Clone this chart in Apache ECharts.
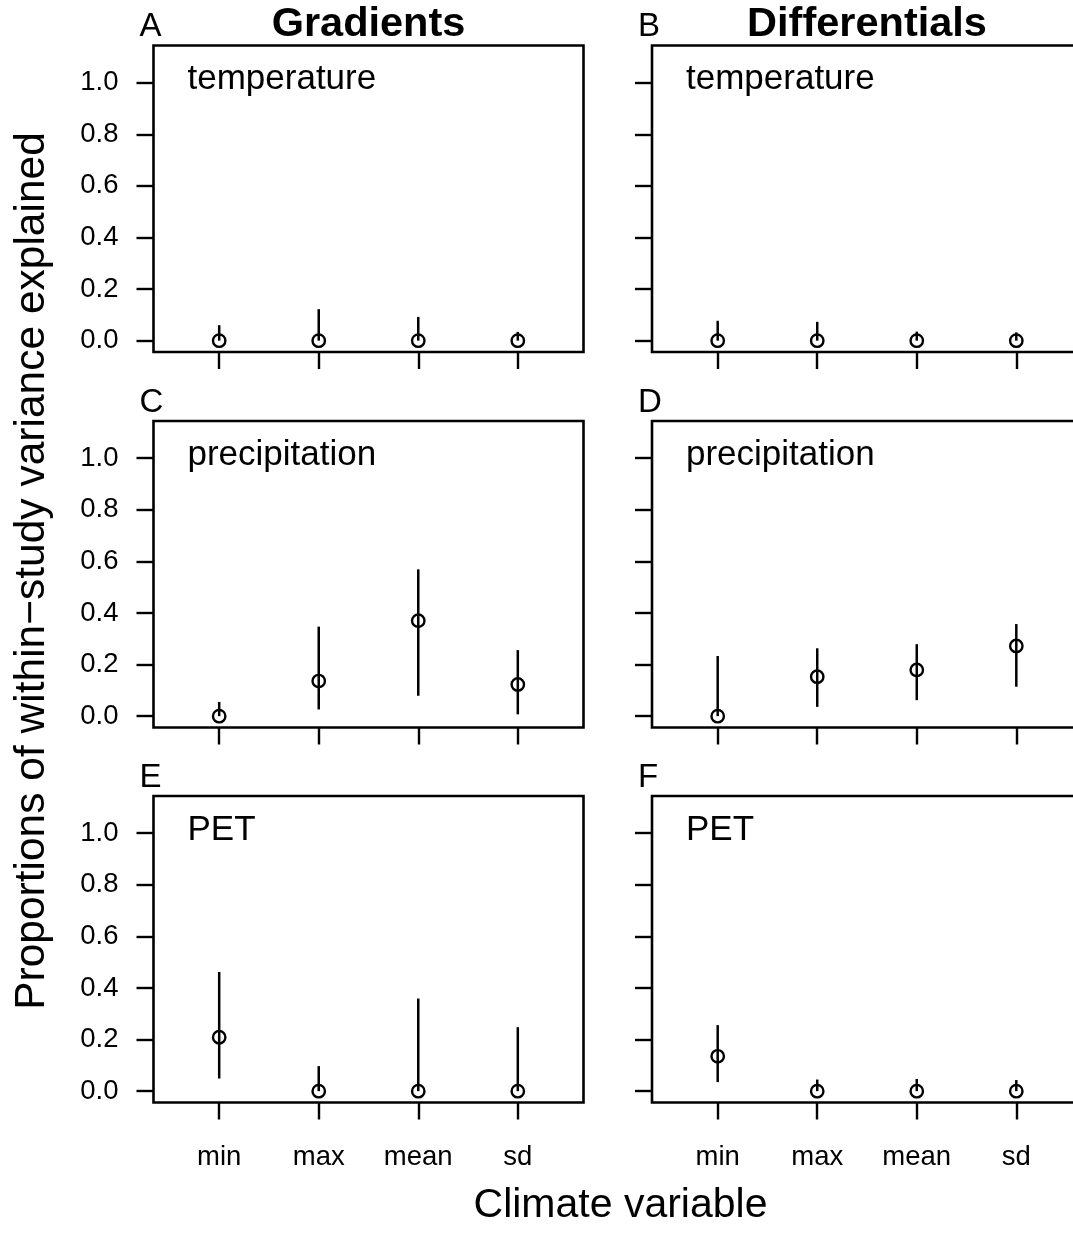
<!DOCTYPE html>
<html><head><meta charset="utf-8">
<script src="https://cdn.jsdelivr.net/npm/echarts@6/dist/echarts.min.js"></script>
<style>html,body{margin:0;padding:0;background:#fff;overflow:hidden}#c{width:1073px;height:1238px}</style>
</head><body><div id="c"></div>
<script>
// ---- data ----
const categories = ['min', 'max', 'mean', 'sd'];
const xPositions = [1, 2, 3, 4];
const yTicks = [0, 0.2, 0.4, 0.6, 0.8, 1.0];
const climateVars = ['temperature', 'precipitation', 'PET'];
const panelLetters = ['A', 'B', 'C', 'D', 'E', 'F'];
const columnTitles = ['Gradients', 'Differentials'];
const yAxisTitle = 'Proportions of within\u2212study variance explained';
const xAxisTitle = 'Climate variable';

// Gradients
const gradTempEst = [0, 0, 0, 0];
const gradTempLo  = [0, 0, 0, 0];
const gradTempHi  = [0.060, 0.122, 0.092, 0.034];
const gradPrecEst = [0, 0.136, 0.370, 0.123];
const gradPrecLo  = [0, 0.026, 0.079, 0.007];
const gradPrecHi  = [0.055, 0.347, 0.569, 0.256];
const gradPetEst  = [0.209, 0, 0, 0];
const gradPetLo   = [0.049, 0, 0, 0];
const gradPetHi   = [0.462, 0.097, 0.359, 0.248];
// Differentials
const diffTempEst = [0, 0, 0, 0];
const diffTempLo  = [0, 0, 0, 0];
const diffTempHi  = [0.077, 0.073, 0.035, 0.032];
const diffPrecEst = [0, 0.153, 0.179, 0.272];
const diffPrecLo  = [0, 0.036, 0.062, 0.114];
const diffPrecHi  = [0.233, 0.263, 0.279, 0.357];
const diffPetEst  = [0.135, 0, 0, 0];
const diffPetLo   = [0.035, 0, 0, 0];
const diffPetHi   = [0.256, 0.045, 0.047, 0.043];

// panels in row-major order: A B / C D / E F
const panels = [
  {est: gradTempEst, lo: gradTempLo, hi: gradTempHi},
  {est: diffTempEst, lo: diffTempLo, hi: diffTempHi},
  {est: gradPrecEst, lo: gradPrecLo, hi: gradPrecHi},
  {est: diffPrecEst, lo: diffPrecLo, hi: diffPrecHi},
  {est: gradPetEst,  lo: gradPetLo,  hi: gradPetHi},
  {est: diffPetEst,  lo: diffPetLo,  hi: diffPetHi}
];

// ---- layout ----
const FONT = '"Liberation Sans", Arial, Helvetica, sans-serif';
const colLeft = [153.5, 652];
const gridW = 430;
const rowTop = [45.5, 421, 796];
const gridH = 306.5;

const grids = [], xAxes = [], yAxes = [], series = [], graphics = [];

panels.forEach((p, i) => {
  const r = Math.floor(i / 2), c = i % 2;
  grids.push({left: colLeft[c], top: rowTop[r], width: gridW, height: gridH,
    show: true, borderColor: '#000', borderWidth: 2.6, backgroundColor: 'transparent',
    containLabel: false, outerBoundsMode: 'none'});
  xAxes.push({type: 'value', gridIndex: i, min: 0.34, max: 4.66, position: 'bottom',
    axisLine: {show: false, onZero: false}, splitLine: {show: false},
    axisTick: {show: true, customValues: xPositions, length: 17, lineStyle: {color: '#000', width: 2.4}},
    axisLabel: {show: r === 2, customValues: xPositions, margin: 41,
      color: '#000', fontSize: 27.5, fontFamily: FONT,
      formatter: v => categories[Math.round(v) - 1] || ''}});
  yAxes.push({type: 'value', gridIndex: i, min: -0.044, max: 1.144, position: 'left',
    axisLine: {show: false, onZero: false}, splitLine: {show: false},
    axisTick: {show: true, customValues: yTicks, length: 17, lineStyle: {color: '#000', width: 2.4}},
    axisLabel: {show: c === 0, customValues: yTicks, margin: 35,
      color: '#000', fontSize: 27.5, fontFamily: FONT,
      formatter: v => v.toFixed(1)}});
  const barData = xPositions.map((x, k) => [x, p.lo[k], p.hi[k], p.est[k]]);
  series.push({type: 'custom', xAxisIndex: i, yAxisIndex: i, data: barData,
    encode: {x: 0, y: [1, 2, 3]}, clip: false,
    renderItem: (params, api) => {
      const x = api.value(0);
      const a = api.coord([x, api.value(1)]);
      const b = api.coord([x, api.value(2)]);
      const m = api.coord([x, api.value(3)]);
      return {type: 'group', children: [
        {type: 'line', shape: {x1: a[0], y1: a[1], x2: b[0], y2: b[1]},
          style: {stroke: '#000', lineWidth: 2.5}},
        {type: 'circle', shape: {cx: m[0], cy: m[1], r: 6.2},
          style: {fill: 'none', stroke: '#000', lineWidth: 2.4}}
      ]};
    }});
  // panel variable label
  graphics.push({type: 'text', x: colLeft[c] + 34, y: rowTop[r] + 34,
    style: {text: climateVars[r], font: '35px ' + FONT, fill: '#000', align: 'left', verticalAlign: 'middle'}});
  // panel letter
  graphics.push({type: 'text', x: colLeft[c] - 14, y: rowTop[r] - 18.5,
    style: {text: panelLetters[i], font: '33px ' + FONT, fill: '#000', align: 'left', verticalAlign: 'middle'}});
});

columnTitles.forEach((t, c) => {
  graphics.push({type: 'text', x: colLeft[c] + gridW / 2, y: 25,
    style: {text: t, font: 'bold 41.5px ' + FONT, fill: '#000', align: 'center', verticalAlign: 'middle'}});
});
graphics.push({type: 'text', x: 620.5, y: 1206,
  style: {text: xAxisTitle, font: '41px ' + FONT, fill: '#000', align: 'center', verticalAlign: 'middle'}});
graphics.push({type: 'text', x: 32, y: 571, rotation: Math.PI / 2,
  style: {text: yAxisTitle, font: '42.5px ' + FONT, fill: '#000', align: 'center', verticalAlign: 'middle'}});

const chart = echarts.init(document.getElementById('c'), null, {renderer: 'canvas'});
chart.setOption({
  animation: false,
  backgroundColor: '#fff',
  grid: grids, xAxis: xAxes, yAxis: yAxes, series: series, graphic: graphics
});
</script></body></html>
